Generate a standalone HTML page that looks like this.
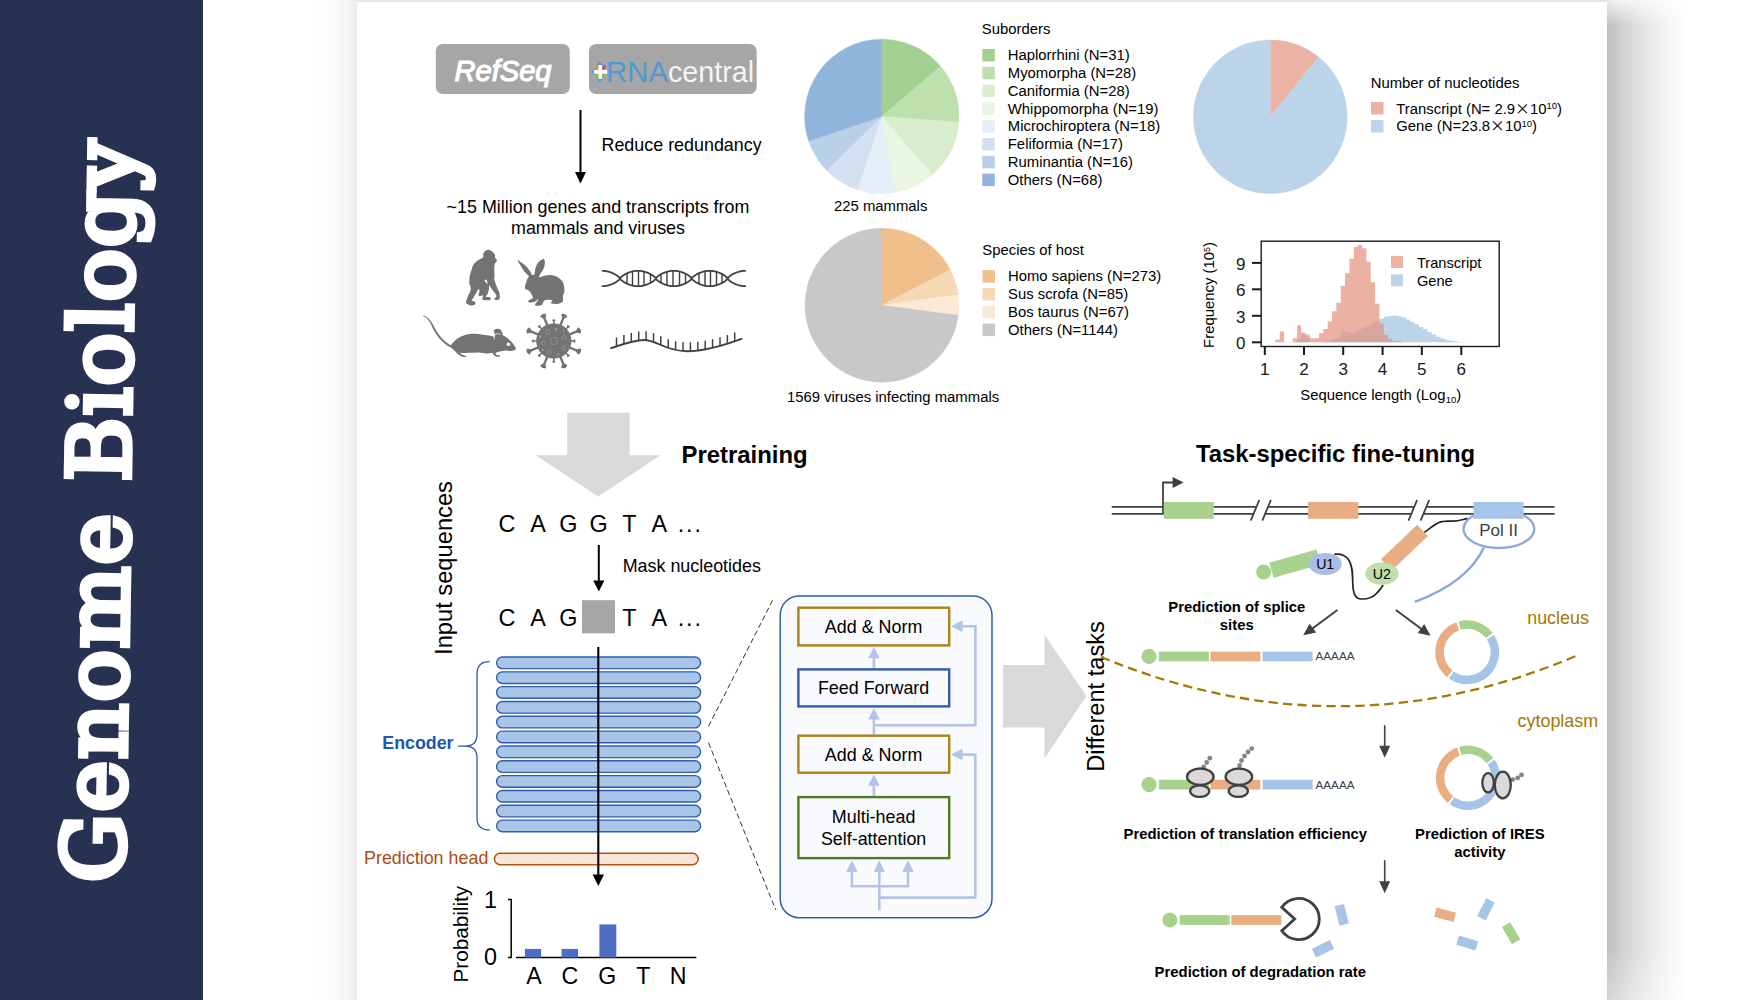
<!DOCTYPE html>
<html lang="en"><head><meta charset="utf-8"><title>Genome Biology</title>
<style>
html,body{margin:0;padding:0;background:#fff;}
body{width:1760px;height:1000px;overflow:hidden;position:relative;font-family:"Liberation Sans",sans-serif;}
#side{position:absolute;left:0;top:0;width:203px;height:1000px;background:#273252;}
#shL{position:absolute;left:315px;top:0;width:42px;height:1000px;background:linear-gradient(to right,rgba(0,0,0,0),rgba(0,0,0,0.02) 45%,rgba(0,0,0,0.045) 80%,rgba(0,0,0,0.08));}
#shR{position:absolute;left:1607px;top:0;width:80px;height:1000px;background:linear-gradient(to right,rgba(0,0,0,0.25),rgba(0,0,0,0.135) 35%,rgba(0,0,0,0.05) 70%,rgba(0,0,0,0));}
#shR:before{content:'';position:absolute;left:0;top:0;width:80px;height:26px;background:linear-gradient(to bottom,rgba(255,255,255,0.75),rgba(255,255,255,0));}
#shR:after{content:'';position:absolute;left:0;top:945px;width:80px;height:55px;background:linear-gradient(to bottom,rgba(255,255,255,0),rgba(255,255,255,0.35));}
#shT{position:absolute;left:357px;top:0;width:1250px;height:2px;background:#e6e6e6;}
#panel{position:absolute;left:357px;top:2px;width:1250px;height:998px;background:#fff;}
svg{position:absolute;left:0;top:0;}
svg text{font-family:"Liberation Sans",sans-serif;}
</style></head><body>
<div id="side"></div>
<div id="shL"></div><div id="shR"></div><div id="shT"></div><div id="panel"></div>
<svg width="1760" height="1000" viewBox="0 0 1760 1000">
<g id="topleft">
<rect x="435.8" y="44" width="134" height="50" rx="7" fill="#a6a6a6"/>
<rect x="589" y="44" width="167.7" height="50" rx="7" fill="#a6a6a6"/>
<text x="503" y="81" text-anchor="middle" font-size="30" font-weight="400" font-style="italic" fill="#fff" stroke="#fff" stroke-width="1.2" stroke-linejoin="round" stroke-linecap="round" textLength="97" lengthAdjust="spacingAndGlyphs">RefSeq</text>
<g transform="translate(599.7,71.8) scale(1.15)"><path d="M-7.5,0 L-4,-3 V3 Z M0,-9 L-3,-6 H3 Z M0,9 L-3,6 H3Z" fill="#4a9ad4"/><rect x="-4" y="-5.5" width="3.2" height="3.2" fill="#e08a3c"/><rect x="2" y="-5.5" width="3.2" height="3.2" fill="#c04fa0"/><rect x="-4" y="2.3" width="3.2" height="3.2" fill="#8bbf3f"/><rect x="2" y="2.3" width="3.2" height="3.2" fill="#8bbf3f"/><path d="M-1,-6 H2 V-1.6 H6.5 V1.6 H2 V6 H-1 V1.6 H-5 V-1.6 H-1 Z" fill="#fff"/></g>
<text x="606" y="81.7" font-size="29.5" fill="#4a9ad4" textLength="62" lengthAdjust="spacingAndGlyphs">RNA</text>
<text x="668" y="81.7" font-size="29" fill="#f4f4f4" textLength="86" lengthAdjust="spacingAndGlyphs">central</text>
<path d="M580.5,110 V174" stroke="#000" stroke-width="2" fill="none"/><path d="M575,172 H586 L580.5,183.5 Z" fill="#000"/>
<text x="601.5" y="150.6" font-size="17.9">Reduce redundancy</text>
<text x="598" y="212.8" font-size="17.9" text-anchor="middle">~15 Million genes and transcripts from</text>
<text x="598" y="233.5" font-size="17.9" text-anchor="middle">mammals and viruses</text>
</g>
<g id="animals" fill="#737373">
<g transform="translate(455,240) scale(0.070013)"><path d="M480,140 C497,143 525,158 540,170 C555,182 567,198 572,210 C577,222 566,232 570,245 C574,258 595,273 598,285 C601,297 595,305 590,315 C585,325 573,328 568,345 C563,362 560,394 560,420 C560,446 565,477 565,500 C565,523 558,540 560,560 C562,580 572,597 580,620 C588,643 601,677 610,700 C619,723 630,738 635,760 C640,782 642,814 640,830 C638,846 633,852 620,855 C607,858 567,856 560,850 C553,844 575,830 580,820 C585,810 597,807 590,790 C583,773 557,743 540,720 C523,697 499,653 490,650 C481,647 488,682 485,700 C482,718 478,742 470,760 C462,778 437,801 440,810 C443,819 478,810 490,815 C502,820 510,832 510,840 C510,848 505,857 490,860 C475,863 437,863 420,860 C403,857 393,852 390,840 C387,828 405,797 400,790 C395,783 371,801 360,800 C349,799 337,795 335,785 C333,775 349,754 350,740 C351,726 348,697 340,700 C332,703 313,738 300,760 C287,782 270,813 260,830 C250,847 235,850 240,860 C245,870 283,879 290,890 C297,901 290,918 280,925 C270,932 248,938 230,935 C212,932 182,919 170,910 C158,901 158,898 160,880 C162,862 176,823 185,800 C194,777 208,760 215,740 C222,720 227,700 225,680 C223,660 208,647 205,620 C202,593 205,552 210,520 C215,488 226,458 235,430 C244,402 249,373 265,350 C281,327 308,308 330,290 C352,272 388,262 400,245 C412,228 398,206 405,190 C412,174 428,158 440,150 C452,142 463,137 480,140Z"/><path d="M440,560 L420,585 L470,632 L455,580Z" fill="#fff"/><path d="M895,290 C898,283 938,313 960,330 C982,347 1011,370 1030,390 C1049,410 1063,432 1075,450 C1087,468 1090,488 1100,495 C1110,502 1128,502 1135,490 C1142,478 1139,443 1145,420 C1151,397 1159,370 1170,350 C1181,330 1194,313 1210,300 C1226,287 1253,272 1265,272 C1277,272 1280,284 1282,300 C1284,316 1283,347 1278,370 C1273,393 1260,420 1250,440 C1240,460 1222,474 1215,490 C1208,506 1198,531 1205,535 C1212,539 1238,521 1260,515 C1282,509 1313,501 1340,500 C1367,499 1395,502 1420,510 C1445,518 1470,530 1490,545 C1510,560 1528,578 1540,600 C1552,622 1557,655 1560,680 C1563,705 1563,730 1560,750 C1557,770 1542,783 1540,800 C1538,817 1547,835 1545,850 C1543,865 1541,880 1530,890 C1519,900 1502,906 1480,910 C1458,914 1418,914 1400,912 C1382,910 1372,903 1370,895 C1368,887 1397,872 1390,865 C1383,858 1350,854 1330,855 C1310,856 1285,858 1270,870 C1255,882 1258,918 1240,930 C1222,942 1176,942 1160,940 C1144,938 1142,927 1145,915 C1148,903 1172,882 1180,870 C1188,858 1195,838 1190,840 C1185,842 1168,871 1150,880 C1132,889 1098,895 1080,895 C1062,895 1047,888 1045,880 C1043,872 1059,858 1070,850 C1081,842 1105,845 1110,835 C1115,825 1107,806 1100,790 C1093,774 1080,752 1070,740 C1060,728 1051,722 1040,715 C1029,708 1012,709 1005,700 C998,691 998,677 1000,660 C1002,643 1015,617 1020,600 C1025,583 1024,573 1030,560 C1036,547 1053,530 1055,520 C1057,510 1051,512 1040,500 C1029,488 1007,472 990,450 C973,428 956,397 940,370 C924,343 892,297 895,290Z"/></g>
<g transform="translate(415,305) scale(0.10227)"><path d="M345,400 C354,388 379,357 400,340 C421,323 443,310 470,300 C497,290 528,284 560,282 C592,280 630,287 660,290 C690,293 721,297 740,300 C759,303 768,313 775,310 C782,307 781,290 780,280 C779,270 767,258 770,250 C773,242 789,234 800,232 C811,230 826,233 835,240 C844,247 851,266 855,275 C859,284 852,288 860,295 C868,302 885,308 900,320 C915,332 936,353 950,370 C964,387 981,408 985,420 C989,432 984,435 975,440 C966,445 946,449 930,450 C914,451 897,444 880,445 C863,446 845,451 830,455 C815,459 795,464 790,470 C785,476 793,486 800,490 C807,494 826,492 830,495 C834,498 832,504 825,505 C818,506 800,506 790,503 C780,500 771,490 765,485 C759,480 766,472 755,470 C744,468 722,476 700,475 C678,474 647,466 620,465 C593,464 567,467 540,468 C513,469 478,471 460,470 C442,469 428,459 430,462 C432,465 458,484 470,490 C482,496 496,497 500,500 C504,503 502,507 495,508 C488,509 472,510 460,505 C448,500 433,491 420,480 C407,469 392,452 380,440 C368,428 351,417 345,410 C339,403 336,412 345,400Z"/><path d="M352,398 C262,345 210,268 172,188 C146,138 112,112 78,102 C112,118 138,144 160,192 C196,274 246,356 346,412Z" stroke="#737373" stroke-width="4" stroke-linejoin="round"/><circle cx="913" cy="383" r="17" fill="#fff"/><path d="M778,336 C764,302 784,266 832,286" fill="none" stroke="#fff" stroke-width="7" stroke-linecap="round"/></g>
<g transform="translate(553.8,341.0)"><g transform="rotate(22.5)"><path d="M-1.2,0 V-24.5 L-3.4,-27.8 Q0,-30.6 3.4,-27.8 L1.2,-24.5 V0Z"/></g><g transform="rotate(0)"><path d="M-0.8,0 V-19.5 L-1.9,-21 Q0,-22.6 1.9,-21 L0.8,-19.5 V0Z"/></g><g transform="rotate(67.5)"><path d="M-1.2,0 V-24.5 L-3.4,-27.8 Q0,-30.6 3.4,-27.8 L1.2,-24.5 V0Z"/></g><g transform="rotate(45)"><path d="M-0.8,0 V-19.5 L-1.9,-21 Q0,-22.6 1.9,-21 L0.8,-19.5 V0Z"/></g><g transform="rotate(112.5)"><path d="M-1.2,0 V-24.5 L-3.4,-27.8 Q0,-30.6 3.4,-27.8 L1.2,-24.5 V0Z"/></g><g transform="rotate(90)"><path d="M-0.8,0 V-19.5 L-1.9,-21 Q0,-22.6 1.9,-21 L0.8,-19.5 V0Z"/></g><g transform="rotate(157.5)"><path d="M-1.2,0 V-24.5 L-3.4,-27.8 Q0,-30.6 3.4,-27.8 L1.2,-24.5 V0Z"/></g><g transform="rotate(135)"><path d="M-0.8,0 V-19.5 L-1.9,-21 Q0,-22.6 1.9,-21 L0.8,-19.5 V0Z"/></g><g transform="rotate(202.5)"><path d="M-1.2,0 V-24.5 L-3.4,-27.8 Q0,-30.6 3.4,-27.8 L1.2,-24.5 V0Z"/></g><g transform="rotate(180)"><path d="M-0.8,0 V-19.5 L-1.9,-21 Q0,-22.6 1.9,-21 L0.8,-19.5 V0Z"/></g><g transform="rotate(247.5)"><path d="M-1.2,0 V-24.5 L-3.4,-27.8 Q0,-30.6 3.4,-27.8 L1.2,-24.5 V0Z"/></g><g transform="rotate(225)"><path d="M-0.8,0 V-19.5 L-1.9,-21 Q0,-22.6 1.9,-21 L0.8,-19.5 V0Z"/></g><g transform="rotate(292.5)"><path d="M-1.2,0 V-24.5 L-3.4,-27.8 Q0,-30.6 3.4,-27.8 L1.2,-24.5 V0Z"/></g><g transform="rotate(270)"><path d="M-0.8,0 V-19.5 L-1.9,-21 Q0,-22.6 1.9,-21 L0.8,-19.5 V0Z"/></g><g transform="rotate(337.5)"><path d="M-1.2,0 V-24.5 L-3.4,-27.8 Q0,-30.6 3.4,-27.8 L1.2,-24.5 V0Z"/></g><g transform="rotate(315)"><path d="M-0.8,0 V-19.5 L-1.9,-21 Q0,-22.6 1.9,-21 L0.8,-19.5 V0Z"/></g><circle r="17.6"/><g fill="none" stroke="#9c9c9c" stroke-width="0.7"><circle r="3.7"/><circle cx="-6.3" cy="-8.7" r="2.2"/><circle cx="10.5" cy="-3.6" r="2"/><circle cx="-10.5" cy="2" r="1.9"/><circle cx="-4.2" cy="11.2" r="2.2"/><circle cx="9.8" cy="7" r="1.9"/><circle cx="4.3" cy="13.6" r="1.4"/></g><g fill="#9c9c9c"><circle cx="2.5" cy="-11.8" r="1.3"/><circle cx="-13.5" cy="-4.2" r="1.2"/><circle cx="9.8" cy="-10.2" r="1"/><circle cx="-11" cy="9" r="1.1"/></g></g>
</g>
<g id="dna" fill="none" stroke="#404040" stroke-width="1.8" stroke-linecap="round" stroke-linejoin="round"><path d="M602.6,270.81 L603.0,270.82 L603.3,270.83 L603.7,270.85 L604.0,270.88 L604.4,270.91 L604.7,270.95 L605.1,270.99 L605.5,271.04 L605.8,271.10 L606.2,271.16 L606.5,271.22 L606.9,271.29 L607.2,271.37 L607.6,271.45 L607.9,271.53 L608.3,271.62 L608.7,271.72 L609.0,271.82 L609.4,271.93 L609.7,272.04 L610.1,272.16 L610.4,272.28 L610.8,272.41 L611.2,272.55 L611.5,272.69 L611.9,272.83 L612.2,272.98 L612.6,273.14 L612.9,273.30 L613.3,273.46 L613.7,273.64 L614.0,273.82 L614.4,274.00 L614.7,274.19 L615.1,274.39 L615.4,274.59 L615.8,274.81 L616.1,275.02 L616.5,275.25 L616.9,275.49 L617.2,275.73 L617.6,275.99 L617.9,276.26 L618.3,276.54 L618.6,276.84 L619.0,277.17 L619.4,277.53 L619.7,277.96 L620.1,278.69 L620.4,279.22 L620.8,279.62 L621.1,279.96 L621.5,280.28 L621.9,280.57 L622.2,280.85 L622.6,281.11 L622.9,281.36 L623.3,281.60 L623.6,281.84 L624.0,282.06 L624.3,282.28 L624.7,282.48 L625.1,282.69 L625.4,282.88 L625.8,283.07 L626.1,283.25 L626.5,283.43 L626.8,283.60 L627.2,283.77 L627.6,283.92 L627.9,284.08 L628.3,284.23 L628.6,284.37 L629.0,284.51 L629.3,284.64 L629.7,284.77 L630.1,284.89 L630.4,285.00 L630.8,285.11 L631.1,285.22 L631.5,285.32 L631.8,285.41 L632.2,285.50 L632.5,285.59 L632.9,285.66 L633.3,285.74 L633.6,285.81 L634.0,285.87 L634.3,285.93 L634.7,285.98 L635.0,286.02 L635.4,286.06 L635.8,286.10 L636.1,286.13 L636.5,286.15 L636.8,286.17 L637.2,286.19 L637.5,286.20 L637.9,286.20 L638.2,286.20 L638.6,286.19 L639.0,286.18 L639.3,286.16 L639.7,286.13 L640.0,286.11 L640.4,286.07 L640.7,286.03 L641.1,285.99 L641.5,285.93 L641.8,285.88 L642.2,285.82 L642.5,285.75 L642.9,285.68 L643.2,285.60 L643.6,285.52 L644.0,285.43 L644.3,285.34 L644.7,285.24 L645.0,285.13 L645.4,285.02 L645.7,284.91 L646.1,284.79 L646.4,284.66 L646.8,284.53 L647.2,284.39 L647.5,284.25 L647.9,284.10 L648.2,283.95 L648.6,283.79 L648.9,283.63 L649.3,283.46 L649.7,283.28 L650.0,283.10 L650.4,282.92 L650.7,282.72 L651.1,282.52 L651.4,282.31 L651.8,282.10 L652.2,281.88 L652.5,281.65 L652.9,281.41 L653.2,281.16 L653.6,280.90 L653.9,280.62 L654.3,280.33 L654.6,280.02 L655.0,279.68 L655.4,279.30 L655.7,278.81 L656.1,278.04 L656.4,277.60 L656.8,277.23 L657.1,276.90 L657.5,276.59 L657.9,276.30 L658.2,276.03 L658.6,275.78 L658.9,275.53 L659.3,275.29 L659.6,275.06 L660.0,274.84 L660.4,274.63 L660.7,274.43 L661.1,274.23 L661.4,274.03 L661.8,273.85 L662.1,273.67 L662.5,273.50 L662.8,273.33 L663.2,273.16 L663.6,273.01 L663.9,272.86 L664.3,272.71 L664.6,272.57 L665.0,272.43 L665.3,272.31 L665.7,272.18 L666.1,272.06 L666.4,271.95 L666.8,271.84 L667.1,271.74 L667.5,271.64 L667.8,271.55 L668.2,271.46 L668.6,271.38 L668.9,271.30 L669.3,271.23 L669.6,271.17 L670.0,271.11 L670.3,271.05 L670.7,271.00 L671.0,270.96 L671.4,270.92 L671.8,270.89 L672.1,270.86 L672.5,270.84 L672.8,270.82 L673.2,270.81 L673.5,270.80 L673.9,270.80 L674.3,270.80 L674.6,270.81 L675.0,270.83 L675.3,270.85 L675.7,270.88 L676.0,270.91 L676.4,270.95 L676.8,270.99 L677.1,271.04 L677.5,271.09 L677.8,271.15 L678.2,271.21 L678.5,271.28 L678.9,271.36 L679.2,271.44 L679.6,271.52 L680.0,271.61 L680.3,271.71 L680.7,271.81 L681.0,271.92 L681.4,272.03 L681.7,272.14 L682.1,272.27 L682.5,272.40 L682.8,272.53 L683.2,272.67 L683.5,272.81 L683.9,272.96 L684.2,273.12 L684.6,273.28 L685.0,273.44 L685.3,273.62 L685.7,273.79 L686.0,273.98 L686.4,274.17 L686.7,274.37 L687.1,274.57 L687.4,274.78 L687.8,275.00 L688.2,275.22 L688.5,275.46 L688.9,275.70 L689.2,275.96 L689.6,276.22 L689.9,276.50 L690.3,276.80 L690.7,277.12 L691.0,277.48 L691.4,277.90 L691.7,278.59 L692.1,279.17 L692.4,279.57 L692.8,279.92 L693.2,280.24 L693.5,280.54 L693.9,280.82 L694.2,281.08 L694.6,281.33 L694.9,281.58 L695.3,281.81 L695.6,282.03 L696.0,282.25 L696.4,282.46 L696.7,282.66 L697.1,282.86 L697.4,283.05 L697.8,283.23 L698.1,283.41 L698.5,283.58 L698.9,283.75 L699.2,283.91 L699.6,284.06 L699.9,284.21 L700.3,284.35 L700.6,284.49 L701.0,284.62 L701.4,284.75 L701.7,284.87 L702.1,284.99 L702.4,285.10 L702.8,285.21 L703.1,285.31 L703.5,285.40 L703.8,285.49 L704.2,285.58 L704.6,285.65 L704.9,285.73 L705.3,285.80 L705.6,285.86 L706.0,285.92 L706.3,285.97 L706.7,286.02 L707.1,286.06 L707.4,286.10 L707.8,286.13 L708.1,286.15 L708.5,286.17 L708.8,286.19 L709.2,286.20 L709.6,286.20 L709.9,286.20 L710.3,286.19 L710.6,286.18 L711.0,286.16 L711.3,286.14 L711.7,286.11 L712.0,286.08 L712.4,286.04 L712.8,285.99 L713.1,285.94 L713.5,285.89 L713.8,285.82 L714.2,285.76 L714.5,285.69 L714.9,285.61 L715.3,285.53 L715.6,285.44 L716.0,285.35 L716.3,285.25 L716.7,285.14 L717.0,285.04 L717.4,284.92 L717.7,284.80 L718.1,284.68 L718.5,284.55 L718.8,284.41 L719.2,284.27 L719.5,284.12 L719.9,283.97 L720.2,283.81 L720.6,283.65 L721.0,283.48 L721.3,283.31 L721.7,283.13 L722.0,282.94 L722.4,282.75 L722.7,282.55 L723.1,282.34 L723.5,282.13 L723.8,281.90 L724.2,281.68 L724.5,281.44 L724.9,281.19 L725.2,280.93 L725.6,280.66 L725.9,280.37 L726.3,280.06 L726.7,279.72 L727.0,279.35 L727.4,278.88 L727.7,278.11 L728.1,277.65 L728.4,277.27 L728.8,276.93 L729.2,276.63 L729.5,276.34 L729.9,276.07 L730.2,275.81 L730.6,275.56 L730.9,275.32 L731.3,275.09 L731.7,274.87 L732.0,274.66 L732.4,274.45 L732.7,274.25 L733.1,274.06 L733.4,273.87 L733.8,273.69 L734.1,273.52 L734.5,273.35 L734.9,273.18 L735.2,273.03 L735.6,272.87 L735.9,272.73 L736.3,272.59 L736.6,272.45 L737.0,272.32 L737.4,272.20 L737.7,272.08 L738.1,271.96 L738.4,271.85 L738.8,271.75 L739.1,271.65 L739.5,271.56 L739.9,271.47 L740.2,271.39 L740.6,271.31 L740.9,271.24 L741.3,271.17 L741.6,271.11 L742.0,271.06 L742.3,271.01 L742.7,270.96 L743.1,270.92 L743.4,270.89 L743.8,270.86 L744.1,270.84 L744.5,270.82 L744.8,270.81 L745.2,270.80"/><path d="M602.6,286.19 L603.0,286.18 L603.3,286.17 L603.7,286.15 L604.0,286.12 L604.4,286.09 L604.7,286.05 L605.1,286.01 L605.5,285.96 L605.8,285.90 L606.2,285.84 L606.5,285.78 L606.9,285.71 L607.2,285.63 L607.6,285.55 L607.9,285.47 L608.3,285.38 L608.7,285.28 L609.0,285.18 L609.4,285.07 L609.7,284.96 L610.1,284.84 L610.4,284.72 L610.8,284.59 L611.2,284.45 L611.5,284.31 L611.9,284.17 L612.2,284.02 L612.6,283.86 L612.9,283.70 L613.3,283.54 L613.7,283.36 L614.0,283.18 L614.4,283.00 L614.7,282.81 L615.1,282.61 L615.4,282.41 L615.8,282.19 L616.1,281.98 L616.5,281.75 L616.9,281.51 L617.2,281.27 L617.6,281.01 L617.9,280.74 L618.3,280.46 L618.6,280.16 L619.0,279.83 L619.4,279.47 L619.7,279.04 L620.1,278.31 L620.4,277.78 L620.8,277.38 L621.1,277.04 L621.5,276.72 L621.9,276.43 L622.2,276.15 L622.6,275.89 L622.9,275.64 L623.3,275.40 L623.6,275.16 L624.0,274.94 L624.3,274.72 L624.7,274.52 L625.1,274.31 L625.4,274.12 L625.8,273.93 L626.1,273.75 L626.5,273.57 L626.8,273.40 L627.2,273.23 L627.6,273.08 L627.9,272.92 L628.3,272.77 L628.6,272.63 L629.0,272.49 L629.3,272.36 L629.7,272.23 L630.1,272.11 L630.4,272.00 L630.8,271.89 L631.1,271.78 L631.5,271.68 L631.8,271.59 L632.2,271.50 L632.5,271.41 L632.9,271.34 L633.3,271.26 L633.6,271.19 L634.0,271.13 L634.3,271.07 L634.7,271.02 L635.0,270.98 L635.4,270.94 L635.8,270.90 L636.1,270.87 L636.5,270.85 L636.8,270.83 L637.2,270.81 L637.5,270.80 L637.9,270.80 L638.2,270.80 L638.6,270.81 L639.0,270.82 L639.3,270.84 L639.7,270.87 L640.0,270.89 L640.4,270.93 L640.7,270.97 L641.1,271.01 L641.5,271.07 L641.8,271.12 L642.2,271.18 L642.5,271.25 L642.9,271.32 L643.2,271.40 L643.6,271.48 L644.0,271.57 L644.3,271.66 L644.7,271.76 L645.0,271.87 L645.4,271.98 L645.7,272.09 L646.1,272.21 L646.4,272.34 L646.8,272.47 L647.2,272.61 L647.5,272.75 L647.9,272.90 L648.2,273.05 L648.6,273.21 L648.9,273.37 L649.3,273.54 L649.7,273.72 L650.0,273.90 L650.4,274.08 L650.7,274.28 L651.1,274.48 L651.4,274.69 L651.8,274.90 L652.2,275.12 L652.5,275.35 L652.9,275.59 L653.2,275.84 L653.6,276.10 L653.9,276.38 L654.3,276.67 L654.6,276.98 L655.0,277.32 L655.4,277.70 L655.7,278.19 L656.1,278.96 L656.4,279.40 L656.8,279.77 L657.1,280.10 L657.5,280.41 L657.9,280.70 L658.2,280.97 L658.6,281.22 L658.9,281.47 L659.3,281.71 L659.6,281.94 L660.0,282.16 L660.4,282.37 L660.7,282.57 L661.1,282.77 L661.4,282.97 L661.8,283.15 L662.1,283.33 L662.5,283.50 L662.8,283.67 L663.2,283.84 L663.6,283.99 L663.9,284.14 L664.3,284.29 L664.6,284.43 L665.0,284.57 L665.3,284.69 L665.7,284.82 L666.1,284.94 L666.4,285.05 L666.8,285.16 L667.1,285.26 L667.5,285.36 L667.8,285.45 L668.2,285.54 L668.6,285.62 L668.9,285.70 L669.3,285.77 L669.6,285.83 L670.0,285.89 L670.3,285.95 L670.7,286.00 L671.0,286.04 L671.4,286.08 L671.8,286.11 L672.1,286.14 L672.5,286.16 L672.8,286.18 L673.2,286.19 L673.5,286.20 L673.9,286.20 L674.3,286.20 L674.6,286.19 L675.0,286.17 L675.3,286.15 L675.7,286.12 L676.0,286.09 L676.4,286.05 L676.8,286.01 L677.1,285.96 L677.5,285.91 L677.8,285.85 L678.2,285.79 L678.5,285.72 L678.9,285.64 L679.2,285.56 L679.6,285.48 L680.0,285.39 L680.3,285.29 L680.7,285.19 L681.0,285.08 L681.4,284.97 L681.7,284.86 L682.1,284.73 L682.5,284.60 L682.8,284.47 L683.2,284.33 L683.5,284.19 L683.9,284.04 L684.2,283.88 L684.6,283.72 L685.0,283.56 L685.3,283.38 L685.7,283.21 L686.0,283.02 L686.4,282.83 L686.7,282.63 L687.1,282.43 L687.4,282.22 L687.8,282.00 L688.2,281.78 L688.5,281.54 L688.9,281.30 L689.2,281.04 L689.6,280.78 L689.9,280.50 L690.3,280.20 L690.7,279.88 L691.0,279.52 L691.4,279.10 L691.7,278.41 L692.1,277.83 L692.4,277.43 L692.8,277.08 L693.2,276.76 L693.5,276.46 L693.9,276.18 L694.2,275.92 L694.6,275.67 L694.9,275.42 L695.3,275.19 L695.6,274.97 L696.0,274.75 L696.4,274.54 L696.7,274.34 L697.1,274.14 L697.4,273.95 L697.8,273.77 L698.1,273.59 L698.5,273.42 L698.9,273.25 L699.2,273.09 L699.6,272.94 L699.9,272.79 L700.3,272.65 L700.6,272.51 L701.0,272.38 L701.4,272.25 L701.7,272.13 L702.1,272.01 L702.4,271.90 L702.8,271.79 L703.1,271.69 L703.5,271.60 L703.8,271.51 L704.2,271.42 L704.6,271.35 L704.9,271.27 L705.3,271.20 L705.6,271.14 L706.0,271.08 L706.3,271.03 L706.7,270.98 L707.1,270.94 L707.4,270.90 L707.8,270.87 L708.1,270.85 L708.5,270.83 L708.8,270.81 L709.2,270.80 L709.6,270.80 L709.9,270.80 L710.3,270.81 L710.6,270.82 L711.0,270.84 L711.3,270.86 L711.7,270.89 L712.0,270.92 L712.4,270.96 L712.8,271.01 L713.1,271.06 L713.5,271.11 L713.8,271.18 L714.2,271.24 L714.5,271.31 L714.9,271.39 L715.3,271.47 L715.6,271.56 L716.0,271.65 L716.3,271.75 L716.7,271.86 L717.0,271.96 L717.4,272.08 L717.7,272.20 L718.1,272.32 L718.5,272.45 L718.8,272.59 L719.2,272.73 L719.5,272.88 L719.9,273.03 L720.2,273.19 L720.6,273.35 L721.0,273.52 L721.3,273.69 L721.7,273.87 L722.0,274.06 L722.4,274.25 L722.7,274.45 L723.1,274.66 L723.5,274.87 L723.8,275.10 L724.2,275.32 L724.5,275.56 L724.9,275.81 L725.2,276.07 L725.6,276.34 L725.9,276.63 L726.3,276.94 L726.7,277.28 L727.0,277.65 L727.4,278.12 L727.7,278.89 L728.1,279.35 L728.4,279.73 L728.8,280.07 L729.2,280.37 L729.5,280.66 L729.9,280.93 L730.2,281.19 L730.6,281.44 L730.9,281.68 L731.3,281.91 L731.7,282.13 L732.0,282.34 L732.4,282.55 L732.7,282.75 L733.1,282.94 L733.4,283.13 L733.8,283.31 L734.1,283.48 L734.5,283.65 L734.9,283.82 L735.2,283.97 L735.6,284.13 L735.9,284.27 L736.3,284.41 L736.6,284.55 L737.0,284.68 L737.4,284.80 L737.7,284.92 L738.1,285.04 L738.4,285.15 L738.8,285.25 L739.1,285.35 L739.5,285.44 L739.9,285.53 L740.2,285.61 L740.6,285.69 L740.9,285.76 L741.3,285.83 L741.6,285.89 L742.0,285.94 L742.3,285.99 L742.7,286.04 L743.1,286.08 L743.4,286.11 L743.8,286.14 L744.1,286.16 L744.5,286.18 L744.8,286.19 L745.2,286.20"/><path d="M627,273.3 V283.7" stroke-width="1.4"/><path d="M632.5,271.4 V285.6" stroke-width="1.4"/><path d="M638.5,270.8 V286.2" stroke-width="1.4"/><path d="M644,271.6 V285.4" stroke-width="1.4"/><path d="M650.5,274.2 V282.8" stroke-width="1.4"/><path d="M661,274.3 V282.7" stroke-width="1.4"/><path d="M667,271.8 V285.2" stroke-width="1.4"/><path d="M673,270.8 V286.2" stroke-width="1.4"/><path d="M679.5,271.5 V285.5" stroke-width="1.4"/><path d="M685.5,273.7 V283.3" stroke-width="1.4"/><path d="M699,273.2 V283.8" stroke-width="1.4"/><path d="M705,271.3 V285.7" stroke-width="1.4"/><path d="M710.5,270.8 V286.2" stroke-width="1.4"/><path d="M716.5,271.8 V285.2" stroke-width="1.4"/><path d="M722,274.0 V283.0" stroke-width="1.4"/></g>
<g id="rna" fill="none" stroke="#404040" stroke-linecap="round"><path d="M611,348.2 C622,344.5 634,340 644,340 C657,340 665,351.2 687,351.2 C705,351.2 722,346 741.5,338.8" stroke-width="1.9"/><path d="M616.5,346.3 v-8.8" stroke-width="1.5" stroke-linecap="butt"/><path d="M623.9,343.9 v-8.8" stroke-width="1.5" stroke-linecap="butt"/><path d="M631.3,341.8 v-8.8" stroke-width="1.5" stroke-linecap="butt"/><path d="M638.7,340.4 v-8.8" stroke-width="1.5" stroke-linecap="butt"/><path d="M646.1,340.1 v-8.8" stroke-width="1.5" stroke-linecap="butt"/><path d="M653.5,341.9 v-8.8" stroke-width="1.5" stroke-linecap="butt"/><path d="M660.8,345.0 v-8.8" stroke-width="1.5" stroke-linecap="butt"/><path d="M668.2,348.0 v-8.8" stroke-width="1.5" stroke-linecap="butt"/><path d="M675.6,350.1 v-8.8" stroke-width="1.5" stroke-linecap="butt"/><path d="M683.0,351.1 v-8.8" stroke-width="1.5" stroke-linecap="butt"/><path d="M690.4,351.1 v-8.8" stroke-width="1.5" stroke-linecap="butt"/><path d="M697.8,350.6 v-8.8" stroke-width="1.5" stroke-linecap="butt"/><path d="M705.2,349.5 v-8.8" stroke-width="1.5" stroke-linecap="butt"/><path d="M712.6,348.0 v-8.8" stroke-width="1.5" stroke-linecap="butt"/><path d="M720.0,346.0 v-8.8" stroke-width="1.5" stroke-linecap="butt"/><path d="M727.4,343.8 v-8.8" stroke-width="1.5" stroke-linecap="butt"/><path d="M734.7,341.2 v-8.8" stroke-width="1.5" stroke-linecap="butt"/></g>
<g id="pies">
<path d="M881.80,116.40 L881.80,39.20 A77.2,77.2 0 0 1 940.59,66.37 Z" fill="#a1d090" stroke="#a1d090" stroke-width="0.4"/>
<path d="M881.80,116.40 L940.59,66.37 A77.2,77.2 0 0 1 958.77,122.32 Z" fill="#bde0ae" stroke="#bde0ae" stroke-width="0.4"/>
<path d="M881.80,116.40 L958.77,122.32 A77.2,77.2 0 0 1 932.24,174.84 Z" fill="#d7edcb" stroke="#d7edcb" stroke-width="0.4"/>
<path d="M881.80,116.40 L932.24,174.84 A77.2,77.2 0 0 1 895.74,192.33 Z" fill="#eaf5e2" stroke="#eaf5e2" stroke-width="0.4"/>
<path d="M881.80,116.40 L895.74,192.33 A77.2,77.2 0 0 1 857.43,189.65 Z" fill="#e6eef9" stroke="#e6eef9" stroke-width="0.4"/>
<path d="M881.80,116.40 L857.43,189.65 A77.2,77.2 0 0 1 826.64,170.41 Z" fill="#d3e0f1" stroke="#d3e0f1" stroke-width="0.4"/>
<path d="M881.80,116.40 L826.64,170.41 A77.2,77.2 0 0 1 808.72,141.28 Z" fill="#b9d1e8" stroke="#b9d1e8" stroke-width="0.4"/>
<path d="M881.80,116.40 L808.72,141.28 A77.2,77.2 0 0 1 881.80,39.20 Z" fill="#90b5dd" stroke="#90b5dd" stroke-width="0.4"/>

<text x="981.8" y="33.6" font-size="14.86">Suborders</text>
<rect x="982.3" y="49.0" width="12.5" height="12.5" fill="#a1d090"/><text x="1007.8" y="60.2" font-size="14.86">Haplorrhini (N=31)</text>
<rect x="982.3" y="66.8" width="12.5" height="12.5" fill="#bde0ae"/><text x="1007.8" y="78.0" font-size="14.86">Myomorpha (N=28)</text>
<rect x="982.3" y="84.6" width="12.5" height="12.5" fill="#d7edcb"/><text x="1007.8" y="95.8" font-size="14.86">Caniformia (N=28)</text>
<rect x="982.3" y="102.4" width="12.5" height="12.5" fill="#eaf5e2"/><text x="1007.8" y="113.6" font-size="14.86">Whippomorpha (N=19)</text>
<rect x="982.3" y="120.2" width="12.5" height="12.5" fill="#e6eef9"/><text x="1007.8" y="131.4" font-size="14.86">Microchiroptera (N=18)</text>
<rect x="982.3" y="138.0" width="12.5" height="12.5" fill="#d3e0f1"/><text x="1007.8" y="149.2" font-size="14.86">Feliformia (N=17)</text>
<rect x="982.3" y="155.8" width="12.5" height="12.5" fill="#b9d1e8"/><text x="1007.8" y="167.0" font-size="14.86">Ruminantia (N=16)</text>
<rect x="982.3" y="173.6" width="12.5" height="12.5" fill="#90b5dd"/><text x="1007.8" y="184.8" font-size="14.86">Others (N=68)</text>

<text x="880.7" y="211.3" font-size="14.86" text-anchor="middle">225 mammals</text>
<path d="M1270.30,116.80 L1270.30,39.90 A76.9,76.9 0 0 1 1318.80,57.12 Z" fill="#ebb3a3" stroke="#ebb3a3" stroke-width="0.4"/>
<path d="M1270.30,116.80 L1318.80,57.12 A76.9,76.9 0 1 1 1270.30,39.90 Z" fill="#bcd4e9" stroke="#bcd4e9" stroke-width="0.4"/>

<text x="1370.7" y="88" font-size="14.86">Number of nucleotides</text>
<rect x="1371" y="102" width="12.5" height="12.5" fill="#ebb3a3"/><text x="1396.3" y="113.6" font-size="14.86">Transcript (N= 2.9<tspan style="font-family:&quot;Noto Sans CJK SC&quot;,sans-serif">×</tspan><tspan>10</tspan><tspan font-size="9.5" dy="-4.2">10</tspan><tspan dy="4.2">)</tspan></text>
<rect x="1371" y="120" width="12.5" height="12.5" fill="#bcd4e9"/><text x="1396.3" y="131.4" font-size="14.86">Gene (N=23.8<tspan style="font-family:&quot;Noto Sans CJK SC&quot;,sans-serif">×</tspan><tspan>10</tspan><tspan font-size="9.5" dy="-4.2">10</tspan><tspan dy="4.2">)</tspan></text>
<path d="M882.00,305.20 L882.00,228.20 A77,77 0 0 1 950.39,269.81 Z" fill="#f0bf8b" stroke="#f0bf8b" stroke-width="0.4"/>
<path d="M882.00,305.20 L950.39,269.81 A77,77 0 0 1 958.28,294.67 Z" fill="#f5d9b5" stroke="#f5d9b5" stroke-width="0.4"/>
<path d="M882.00,305.20 L958.28,294.67 A77,77 0 0 1 958.34,315.27 Z" fill="#fbe9d5" stroke="#fbe9d5" stroke-width="0.4"/>
<path d="M882.00,305.20 L958.34,315.27 A77,77 0 1 1 882.00,228.20 Z" fill="#c8c8c8" stroke="#c8c8c8" stroke-width="0.4"/>

<text x="982.3" y="254.9" font-size="14.86">Species of host</text>
<rect x="982.5" y="270.2" width="12.5" height="12.5" fill="#f0bf8b"/><text x="1008.0" y="281.4" font-size="14.86">Homo sapiens (N=273)</text>
<rect x="982.5" y="288.0" width="12.5" height="12.5" fill="#f5d9b5"/><text x="1008.0" y="299.2" font-size="14.86">Sus scrofa (N=85)</text>
<rect x="982.5" y="305.8" width="12.5" height="12.5" fill="#fbe9d5"/><text x="1008.0" y="317.0" font-size="14.86">Bos taurus (N=67)</text>
<rect x="982.5" y="323.6" width="12.5" height="12.5" fill="#c8c8c8"/><text x="1008.0" y="334.8" font-size="14.86">Others (N=1144)</text>

<text x="893" y="402" font-size="14.86" text-anchor="middle">1569 viruses infecting mammals</text>
</g>
<g id="hist">
<path d="M1297.09,342.3 V338.89 H1301.18 V342.3Z M1301.18,342.3 V335.07 H1305.68 V342.3Z M1305.68,342.3 V338.21 H1309.91 V342.3Z M1323.28,342.3 V341.35 H1327.64 V342.3Z M1327.64,342.3 V340.25 H1332.00 V342.3Z M1332.00,342.3 V338.62 H1336.37 V342.3Z M1336.37,342.3 V337.25 H1340.73 V342.3Z M1340.73,342.3 V331.39 H1345.09 V342.3Z M1345.09,342.3 V332.35 H1349.46 V342.3Z M1349.46,342.3 V333.03 H1353.82 V342.3Z M1353.82,342.3 V331.80 H1357.91 V342.3Z M1357.91,342.3 V329.62 H1362.00 V342.3Z M1362.00,342.3 V327.30 H1366.37 V342.3Z M1366.37,342.3 V325.25 H1370.73 V342.3Z M1370.73,342.3 V322.53 H1375.10 V342.3Z M1375.10,342.3 V320.48 H1379.46 V342.3Z M1379.46,342.3 V318.71 H1383.82 V342.3Z M1383.82,342.3 V316.80 H1388.19 V342.3Z M1388.19,342.3 V315.98 H1392.55 V342.3Z M1392.55,342.3 V315.44 H1397.05 V342.3Z M1397.05,342.3 V315.98 H1401.42 V342.3Z M1401.42,342.3 V317.34 H1405.78 V342.3Z M1405.78,342.3 V319.53 H1410.01 V342.3Z M1410.01,342.3 V321.84 H1414.37 V342.3Z M1414.37,342.3 V324.16 H1418.73 V342.3Z M1418.73,342.3 V326.89 H1423.10 V342.3Z M1423.10,342.3 V329.34 H1427.46 V342.3Z M1427.46,342.3 V332.07 H1431.83 V342.3Z M1431.83,342.3 V334.53 H1436.19 V342.3Z M1436.19,342.3 V336.71 H1440.55 V342.3Z M1440.55,342.3 V338.48 H1444.92 V342.3Z M1444.92,342.3 V339.71 H1449.28 V342.3Z M1449.28,342.3 V340.66 H1453.65 V342.3Z M1453.65,342.3 V341.35 H1458.01 V342.3Z M1458.01,342.3 V341.89 H1467.28 V342.3Z " fill="#9fc2e0" fill-opacity="0.7"/>
<path d="M1275.27,342.3 V339.57 H1279.77 V342.3Z M1279.77,342.3 V331.39 H1284.00 V342.3Z M1284.00,342.3 V341.89 H1292.73 V342.3Z M1292.73,342.3 V338.21 H1297.09 V342.3Z M1297.09,342.3 V325.25 H1301.18 V342.3Z M1301.18,342.3 V332.75 H1305.68 V342.3Z M1305.68,342.3 V334.53 H1309.91 V342.3Z M1309.91,342.3 V338.21 H1318.91 V342.3Z M1318.91,342.3 V333.16 H1323.28 V342.3Z M1323.28,342.3 V329.07 H1327.64 V342.3Z M1327.64,342.3 V321.57 H1332.00 V342.3Z M1332.00,342.3 V311.34 H1336.37 V342.3Z M1336.37,342.3 V302.75 H1340.73 V342.3Z M1340.73,342.3 V285.98 H1345.09 V342.3Z M1345.09,342.3 V273.16 H1349.46 V342.3Z M1349.46,342.3 V258.71 H1353.82 V342.3Z M1353.82,342.3 V246.84 H1357.91 V342.3Z M1357.91,342.3 V245.07 H1362.00 V342.3Z M1362.00,342.3 V248.20 H1366.37 V342.3Z M1366.37,342.3 V261.84 H1370.73 V342.3Z M1370.73,342.3 V282.30 H1375.10 V342.3Z M1375.10,342.3 V303.84 H1379.46 V342.3Z M1379.46,342.3 V323.21 H1383.82 V342.3Z M1383.82,342.3 V334.80 H1388.19 V342.3Z M1388.19,342.3 V338.89 H1392.55 V342.3Z M1392.55,342.3 V341.35 H1401.82 V342.3Z " fill="#e2927c" fill-opacity="0.7"/>
<rect x="1261.2" y="241.2" width="238" height="105.3" fill="none" stroke="#1a1a1a" stroke-width="1.4"/>
<g stroke="#1a1a1a" stroke-width="2"><path d="M1252,342.3 H1261"/><path d="M1252,315.8 H1261"/><path d="M1252,289.3 H1261"/><path d="M1252,262.9 H1261"/><path d="M1264.8,346.5 V355"/><path d="M1304,346.5 V355"/><path d="M1343.2,346.5 V355"/><path d="M1382.6,346.5 V355"/><path d="M1421.8,346.5 V355"/><path d="M1461.3,346.5 V355"/></g>
<text x="1245.5" y="349.4" font-size="17" text-anchor="end" fill="#1a1a1a">0</text>
<text x="1245.5" y="322.9" font-size="17" text-anchor="end" fill="#1a1a1a">3</text>
<text x="1245.5" y="296.4" font-size="17" text-anchor="end" fill="#1a1a1a">6</text>
<text x="1245.5" y="270.0" font-size="17" text-anchor="end" fill="#1a1a1a">9</text>
<text x="1264.8" y="374.8" font-size="17" text-anchor="middle" fill="#1a1a1a">1</text>
<text x="1304" y="374.8" font-size="17" text-anchor="middle" fill="#1a1a1a">2</text>
<text x="1343.2" y="374.8" font-size="17" text-anchor="middle" fill="#1a1a1a">3</text>
<text x="1382.6" y="374.8" font-size="17" text-anchor="middle" fill="#1a1a1a">4</text>
<text x="1421.8" y="374.8" font-size="17" text-anchor="middle" fill="#1a1a1a">5</text>
<text x="1461.3" y="374.8" font-size="17" text-anchor="middle" fill="#1a1a1a">6</text>
<text transform="translate(1214.3,295) rotate(-90)" font-size="14.86" text-anchor="middle">Frequency (10<tspan font-size="9" dy="-4.5">5</tspan><tspan dy="4.5">)</tspan></text>
<text x="1380.7" y="399.9" font-size="14.86" text-anchor="middle">Sequence length (Log<tspan font-size="9.5" dy="3">10</tspan><tspan dy="-3">)</tspan></text>
<rect x="1391" y="256" width="12" height="12" fill="#ebb3a3"/><text x="1417" y="267.5" font-size="14.6">Transcript</text>
<rect x="1391" y="274.3" width="12" height="12" fill="#bcd4e9"/><text x="1417" y="285.6" font-size="14.6">Gene</text>
</g>
<g id="pretrain">
<path d="M567.2,412.6 H629.6 V455.2 H660.4 L598.3,496.6 L535.8,455.2 H567.2Z" fill="#d9d9d9"/>
<text x="681.5" y="463" font-size="23.9" font-weight="700">Pretraining</text>
<text x="507" y="532.4" font-size="23.4" text-anchor="middle">C</text>
<text x="538" y="532.4" font-size="23.4" text-anchor="middle">A</text>
<text x="568.3" y="532.4" font-size="23.4" text-anchor="middle">G</text>
<text x="598.7" y="532.4" font-size="23.4" text-anchor="middle">G</text>
<text x="629.3" y="532.4" font-size="23.4" text-anchor="middle">T</text>
<text x="659.3" y="532.4" font-size="23.4" text-anchor="middle">A</text>
<text x="690.3" y="532.4" font-size="23.4" text-anchor="middle" letter-spacing="1.9">...</text>
<text x="507" y="625.6" font-size="23.4" text-anchor="middle">C</text>
<text x="538" y="625.6" font-size="23.4" text-anchor="middle">A</text>
<text x="568.3" y="625.6" font-size="23.4" text-anchor="middle">G</text>
<text x="629.3" y="625.6" font-size="23.4" text-anchor="middle">T</text>
<text x="659.3" y="625.6" font-size="23.4" text-anchor="middle">A</text>
<text x="690.3" y="625.6" font-size="23.4" text-anchor="middle" letter-spacing="1.9">...</text>
<rect x="582" y="600.2" width="33" height="33.1" fill="#a6a6a6"/>
<path d="M598.8,545 V583" stroke="#000" stroke-width="2"/><path d="M593.2,580.5 H604.4 L598.8,591.5Z" fill="#000"/>
<text x="622.7" y="572.2" font-size="17.9">Mask nucleotides</text>
<text transform="translate(451.5,568) rotate(-90)" font-size="23.7" text-anchor="middle">Input sequences</text>
<rect x="496.6" y="657.00" width="204" height="11.6" rx="5.8" fill="#a8c4e6" stroke="#2f5db3" stroke-width="1.4"/>
<rect x="496.6" y="671.83" width="204" height="11.6" rx="5.8" fill="#a8c4e6" stroke="#2f5db3" stroke-width="1.4"/>
<rect x="496.6" y="686.66" width="204" height="11.6" rx="5.8" fill="#a8c4e6" stroke="#2f5db3" stroke-width="1.4"/>
<rect x="496.6" y="701.49" width="204" height="11.6" rx="5.8" fill="#a8c4e6" stroke="#2f5db3" stroke-width="1.4"/>
<rect x="496.6" y="716.32" width="204" height="11.6" rx="5.8" fill="#a8c4e6" stroke="#2f5db3" stroke-width="1.4"/>
<rect x="496.6" y="731.15" width="204" height="11.6" rx="5.8" fill="#a8c4e6" stroke="#2f5db3" stroke-width="1.4"/>
<rect x="496.6" y="745.98" width="204" height="11.6" rx="5.8" fill="#a8c4e6" stroke="#2f5db3" stroke-width="1.4"/>
<rect x="496.6" y="760.81" width="204" height="11.6" rx="5.8" fill="#a8c4e6" stroke="#2f5db3" stroke-width="1.4"/>
<rect x="496.6" y="775.64" width="204" height="11.6" rx="5.8" fill="#a8c4e6" stroke="#2f5db3" stroke-width="1.4"/>
<rect x="496.6" y="790.47" width="204" height="11.6" rx="5.8" fill="#a8c4e6" stroke="#2f5db3" stroke-width="1.4"/>
<rect x="496.6" y="805.30" width="204" height="11.6" rx="5.8" fill="#a8c4e6" stroke="#2f5db3" stroke-width="1.4"/>
<rect x="496.6" y="820.13" width="204" height="11.6" rx="5.8" fill="#a8c4e6" stroke="#2f5db3" stroke-width="1.4"/>
<path d="M489.6,661.6 Q477,661.6 477,674 V734 Q477,746.2 465,746.2 H458 M465,746.2 Q477,746.2 477,758 V818 Q477,830 489.6,830" fill="none" stroke="#2f57b0" stroke-width="1.3"/>
<text x="382.3" y="749.2" font-size="17.8" font-weight="700" fill="#2355aa">Encoder</text>
<rect x="494.4" y="853.3" width="203.8" height="11.4" rx="5.7" fill="#f9e5d7" stroke="#b4530f" stroke-width="1.5"/>
<text x="364" y="864.4" font-size="17.9" fill="#a94e12">Prediction head</text>
<path d="M598.3,647 V877" stroke="#000" stroke-width="2.1"/><path d="M592.6,874.5 H604 L598.3,886Z" fill="#000"/>
<path d="M508,899.5 H511.2 V957.5 H508 M516,957.5 H696.3" fill="none" stroke="#000" stroke-width="1.5"/>
<rect x="524.9" y="948.9" width="16.2" height="8.6" fill="#4f6ec3"/><rect x="561.6" y="948.9" width="16.4" height="8.6" fill="#4f6ec3"/><rect x="599.4" y="924.4" width="16.9" height="33.1" fill="#4f6ec3"/>
<text x="533.9" y="983.9" font-size="23.2" text-anchor="middle">A</text>
<text x="569.9" y="983.9" font-size="23.2" text-anchor="middle">C</text>
<text x="607.3" y="983.9" font-size="23.2" text-anchor="middle">G</text>
<text x="643.3" y="983.9" font-size="23.2" text-anchor="middle">T</text>
<text x="678.2" y="983.9" font-size="23.2" text-anchor="middle">N</text>
<text x="497" y="908.4" font-size="23.4" text-anchor="end">1</text><text x="497" y="965" font-size="23.4" text-anchor="end">0</text>
<text transform="translate(467.5,934.2) rotate(-90)" font-size="20.7" text-anchor="middle">Probability</text>
<path d="M708.5,726.4 L774,597.5 M708.5,742.6 L775.8,910" fill="none" stroke="#333" stroke-width="1" stroke-dasharray="5.5,3"/>
</g>
<g id="block">
<rect x="780.2" y="596" width="211.8" height="321.7" rx="19" fill="#f8fafd" stroke="#2e5fa8" stroke-width="1.5"/>
<path d="M873.9,797 V782.2" stroke="#b4c4e8" stroke-width="2.6" fill="none"/><path d="M868.1999999999999,785.7 H879.6 L873.9,774.2Z" fill="#b4c4e8"/>
<path d="M873.9,736 V716" stroke="#b4c4e8" stroke-width="2.6" fill="none"/><path d="M868.1999999999999,719.5 H879.6 L873.9,708Z" fill="#b4c4e8"/>
<path d="M873.9,669 V654.8" stroke="#b4c4e8" stroke-width="2.6" fill="none"/><path d="M868.1999999999999,658.3 H879.6 L873.9,646.8Z" fill="#b4c4e8"/>
<path d="M873.9,725.2 H975.4 V626.2 H961" fill="none" stroke="#b4c4e8" stroke-width="2.6"/><path d="M962.5,620.3 V632.1 L951,626.2Z" fill="#b4c4e8"/>
<path d="M879.3,897.6 H975.3 V754.6 H961" fill="none" stroke="#b4c4e8" stroke-width="2.6"/><path d="M962.5,748.7 V760.5 L951,754.6Z" fill="#b4c4e8"/>
<path d="M879.3,910.2 V868 M851.9,868 V886.2 H908 V868" fill="none" stroke="#b4c4e8" stroke-width="2.6"/>
<path d="M846.1999999999999,872 H857.6 L851.9,860.2Z" fill="#b4c4e8"/>
<path d="M873.5999999999999,872 H885.0 L879.3,860.2Z" fill="#b4c4e8"/>
<path d="M902.3,872 H913.7 L908,860.2Z" fill="#b4c4e8"/>
<rect x="798.4" y="607.7" width="150.8" height="37.7" fill="#f8fafd" stroke="#ad8317" stroke-width="2.4"/>
<rect x="798.4" y="669.4000000000001" width="150.8" height="37.0" fill="#f8fafd" stroke="#2e5eaa" stroke-width="2.4"/>
<rect x="798.4" y="735.7" width="150.8" height="37.0" fill="#f8fafd" stroke="#ad8317" stroke-width="2.4"/>
<rect x="798.4" y="797.1" width="150.8" height="61.0" fill="#f8fafd" stroke="#4f7b25" stroke-width="2.4"/>
<text x="873.6" y="632.6" font-size="17.9" text-anchor="middle">Add &amp; Norm</text>
<text x="873.6" y="693.5" font-size="17.9" text-anchor="middle">Feed Forward</text>
<text x="873.6" y="760.8" font-size="17.9" text-anchor="middle">Add &amp; Norm</text>
<text x="873.6" y="823" font-size="17.9" text-anchor="middle">Multi-head</text>
<text x="873.6" y="844.6" font-size="17.9" text-anchor="middle">Self-attention</text>
<path d="M1003,665 H1044.4 V634.4 L1086.4,696 L1044.4,758.6 V727.6 H1003Z" fill="#d9d9d9"/>
<text transform="translate(1104.4,696.4) rotate(-90)" font-size="23.65" text-anchor="middle">Different tasks</text>
</g>
<g id="finetune">
<text x="1196" y="461.5" font-size="23.85" font-weight="700">Task-specific fine-tuning</text>
<path d="M1111.7,506.8 H1554.6 M1111.7,513.8 H1554.6" stroke="#404040" stroke-width="1.8"/>
<path d="M1250.7,520.7 L1259.3,500 H1270.8999999999999 L1262.3,520.7Z" fill="#fff"/>
<path d="M1250.7,520.7 L1259.3,500 M1262.3,520.7 L1270.8999999999999,500" stroke="#404040" stroke-width="1.8"/>
<path d="M1408.5,520.7 L1417.1,500 H1429.1999999999998 L1420.6,520.7Z" fill="#fff"/>
<path d="M1408.5,520.7 L1417.1,500 M1420.6,520.7 L1429.1999999999998,500" stroke="#404040" stroke-width="1.8"/>
<path d="M1163,513.8 V482.5 H1173" fill="none" stroke="#404040" stroke-width="1.8"/><path d="M1172.6,477 V488 L1183.6,482.5Z" fill="#404040"/>
<ellipse cx="1498.9" cy="529" rx="35.4" ry="19" fill="#fff" stroke="#8ea7db" stroke-width="2.4"/>
<rect x="1163.8" y="502" width="50" height="16.8" fill="#a9d18e"/><rect x="1308.1" y="502" width="50.3" height="16.8" fill="#e8ad83"/><rect x="1473.4" y="502" width="50.2" height="16.8" fill="#a6c4e8"/>
<text x="1498.5" y="535.9" font-size="17" text-anchor="middle" fill="#404040">Pol II</text>
<path d="M1483.9,547.5 Q1467.4,582.6 1414.8,601.8" fill="none" stroke="#8ea7db" stroke-width="2.4"/>
<path d="M1467.4,518.4 C1461,520 1458,521.5 1452,521.2 C1447,521 1443,520.6 1439,522.5 C1433,525.5 1429,529 1424.2,532.5" fill="none" stroke="#222" stroke-width="1.7"/>
<path d="M1334.2,554.3 C1340,553.5 1345,555 1348.5,559.5 C1353,566 1352.5,575 1352.8,584 C1353,592 1354.5,598.8 1361,599 C1367,599.2 1372,598.5 1376.5,593.5 C1379.5,590.3 1381.5,588 1383.1,585" fill="none" stroke="#222" stroke-width="1.7"/>
<g transform="translate(1422.5,530.4) rotate(46.3)"><rect x="0" y="-7.8" width="50" height="15.6" fill="#e8ad83" transform="rotate(90) translate(0,0)"/></g>
<g transform="translate(1295,563.6) rotate(-15.4)"><rect x="-24.5" y="-7.8" width="49" height="15.6" fill="#a9d18e"/></g>
<circle cx="1263.6" cy="572" r="7.5" fill="#a9d18e"/>
<ellipse cx="1325.2" cy="564" rx="16.6" ry="11" fill="#aabde6"/><text x="1325.2" y="569" font-size="14.2" text-anchor="middle">U1</text>
<ellipse cx="1381.9" cy="573.6" rx="16.6" ry="11.2" fill="#c1ddaa"/><text x="1381.9" y="578.7" font-size="14.2" text-anchor="middle">U2</text>
<text x="1236.8" y="612.4" font-size="14.86" font-weight="700" text-anchor="middle">Prediction of splice</text><text x="1236.8" y="630.2" font-size="14.86" font-weight="700" text-anchor="middle">sites</text>
<path d="M1337.4,610.0 L1312.1,628.7" stroke="#404040" stroke-width="2"/><path d="M1303.2,635.2 L1309.6,623.7 L1316.1,632.5Z" fill="#404040"/>
<path d="M1395.9,610.0 L1421.8,629.2" stroke="#404040" stroke-width="2"/><path d="M1430.6,635.7 L1417.7,633.0 L1424.2,624.1Z" fill="#404040"/>
<circle cx="1149" cy="656.4" r="7.6" fill="#a9d18e"/><rect x="1158.9" y="651.6" width="50" height="9.7" fill="#a9d18e"/><rect x="1210.4" y="651.6" width="50" height="9.7" fill="#e8ad83"/><rect x="1262.6" y="651.6" width="50" height="9.7" fill="#a6c4e8"/>
<text x="1315.5" y="660.3" font-size="11.7" fill="#404040">AAAAA</text>
<path d="M1459.52,625.59 A27.7,27.7 0 0 1 1489.35,635.57" fill="none" stroke="#a9d18e" stroke-width="8.5"/><path d="M1490.40,637.07 A27.7,27.7 0 0 1 1451.35,674.92" fill="none" stroke="#a6c4e8" stroke-width="8.5"/><path d="M1449.88,673.82 A27.7,27.7 0 0 1 1457.77,626.15" fill="none" stroke="#e8ad83" stroke-width="8.5"/>
<text x="1527.2" y="623.8" font-size="17.9" fill="#a07800">nucleus</text>
<text x="1517.6" y="727.2" font-size="17.9" fill="#a07800">cytoplasm</text>
<path d="M1101,657 Q1340,756 1576.5,655.8" fill="none" stroke="#a37a05" stroke-width="2.3" stroke-dasharray="9.3,5.2"/>
<path d="M1384.7,725.2 L1384.7,746.7" stroke="#404040" stroke-width="1.6"/><path d="M1384.7,757.7 L1379.2,745.7 L1390.2,745.7Z" fill="#404040"/>
<path d="M1384.7,860.2 L1384.7,882.3" stroke="#404040" stroke-width="1.6"/><path d="M1384.7,893.3 L1379.2,881.3 L1390.2,881.3Z" fill="#404040"/>
<circle cx="1149" cy="784.6" r="7.6" fill="#a9d18e"/><rect x="1158.9" y="779.8000000000001" width="50" height="9.7" fill="#a9d18e"/><rect x="1210.4" y="779.8000000000001" width="50" height="9.7" fill="#e8ad83"/><rect x="1262.6" y="779.8000000000001" width="50" height="9.7" fill="#a6c4e8"/>
<text x="1315.5" y="788.5" font-size="11.7" fill="#404040">AAAAA</text>
<circle cx="1203.7" cy="767" r="2.4" fill="#858585"/><circle cx="1206.7" cy="762.5" r="2.4" fill="#858585"/><circle cx="1209.8" cy="758.2" r="2.4" fill="#858585"/><ellipse cx="1200.3" cy="776.7" rx="13.3" ry="8.2" fill="#d9d9d9" stroke="#404040" stroke-width="2.3"/><ellipse cx="1199.7" cy="791.1" rx="9.6" ry="5.8" fill="#d9d9d9" stroke="#404040" stroke-width="2.3"/>
<circle cx="1239.6" cy="765.4" r="2.4" fill="#858585"/><circle cx="1241.5" cy="760.5" r="2.4" fill="#858585"/><circle cx="1244.5" cy="756" r="2.4" fill="#858585"/><circle cx="1248" cy="752" r="2.4" fill="#858585"/><circle cx="1251.8" cy="748.6" r="2.4" fill="#858585"/><ellipse cx="1238.8999999999999" cy="776.7" rx="13.3" ry="8.2" fill="#d9d9d9" stroke="#404040" stroke-width="2.3"/><ellipse cx="1238.3" cy="791.1" rx="9.6" ry="5.8" fill="#d9d9d9" stroke="#404040" stroke-width="2.3"/>
<text x="1245.3" y="838.8" font-size="14.86" font-weight="700" text-anchor="middle">Prediction of translation efficiency</text>
<path d="M1460.26,750.99 A27.9,27.9 0 0 1 1490.02,760.66" fill="none" stroke="#a9d18e" stroke-width="8.5"/><path d="M1491.10,762.16 A27.9,27.9 0 0 1 1452.04,800.68" fill="none" stroke="#a6c4e8" stroke-width="8.5"/><path d="M1450.56,799.57 A27.9,27.9 0 0 1 1458.50,751.57" fill="none" stroke="#e8ad83" stroke-width="8.5"/>
<circle cx="1512.8" cy="779.6" r="2.4" fill="#858585"/>
<circle cx="1517.7" cy="777.9" r="2.4" fill="#858585"/>
<circle cx="1521.5" cy="774.9" r="2.4" fill="#858585"/>
<ellipse cx="1488.1" cy="782.8" rx="5.8" ry="9.6" fill="#d9d9d9" stroke="#404040" stroke-width="2.3"/><ellipse cx="1502.8" cy="785" rx="8" ry="13.3" fill="#d9d9d9" stroke="#404040" stroke-width="2.3"/>
<text x="1479.8" y="838.8" font-size="14.86" font-weight="700" text-anchor="middle">Prediction of IRES</text><text x="1479.8" y="856.6" font-size="14.86" font-weight="700" text-anchor="middle">activity</text>
<circle cx="1169.9" cy="920" r="7.6" fill="#a9d18e"/><rect x="1179.7" y="915.1" width="50" height="9.8" fill="#a9d18e"/><rect x="1231.3" y="915.1" width="50" height="9.8" fill="#e8ad83"/>
<path d="M1294.7,919 L1281.8,907.2 A20.6,20.6 0 1 1 1281.8,930.8Z" fill="#fff" stroke="#404040" stroke-width="2.8" stroke-linejoin="miter"/>
<rect x="-4.8" y="-10.0" width="9.6" height="20" fill="#a6c4e8" transform="translate(1341.7,914.8) rotate(-14)"/>
<rect x="-10.0" y="-4.8" width="20" height="9.6" fill="#a6c4e8" transform="translate(1323,948.7) rotate(-26)"/>
<rect x="-10.0" y="-4.8" width="20" height="9.6" fill="#e8ad83" transform="translate(1445.1,914.8) rotate(15)"/>
<rect x="-4.8" y="-10.0" width="9.6" height="20" fill="#a6c4e8" transform="translate(1486,909.3) rotate(27)"/>
<rect x="-10.0" y="-4.8" width="20" height="9.6" fill="#a6c4e8" transform="translate(1467.2,943) rotate(17)"/>
<rect x="-4.8" y="-10.0" width="9.6" height="20" fill="#a9d18e" transform="translate(1511.1,933.2) rotate(-30)"/>
<text x="1260.3" y="976.9" font-size="14.86" font-weight="700" text-anchor="middle">Prediction of degradation rate</text>
</g>
<text transform="translate(123.6,883) rotate(-89.1) scale(1.005,1)" style="font-family:&quot;DejaVu Serif&quot;,serif" font-weight="400" font-size="86" fill="#fff" stroke="#fff" stroke-width="5.8" stroke-linejoin="miter" stroke-miterlimit="3" letter-spacing="1.6">Genome</text>
<text transform="translate(129.3,482) rotate(-89.1) scale(1.02,1)" style="font-family:&quot;DejaVu Serif&quot;,serif" font-weight="400" font-size="86" fill="#fff" stroke="#fff" stroke-width="5.8" stroke-linejoin="miter" stroke-miterlimit="3" letter-spacing="1.6">Biology</text>
</svg>
</body></html>
